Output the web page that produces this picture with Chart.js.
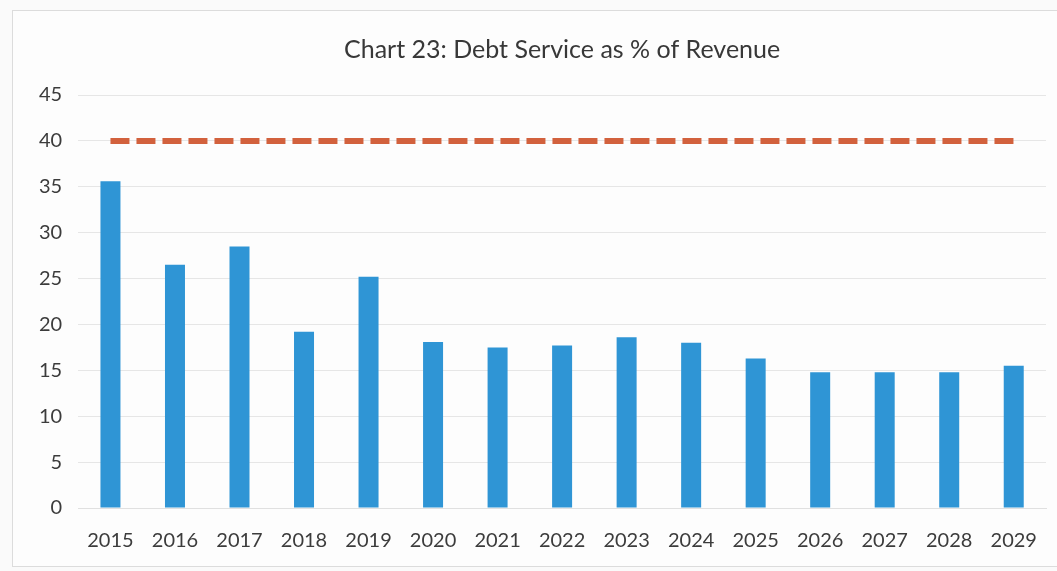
<!DOCTYPE html>
<html>
<head>
<meta charset="utf-8">
<script src="https://cdn.jsdelivr.net/npm/chart.js@4/dist/chart.umd.min.js"></script>
<style>
    html, body { margin: 0; padding: 0; background: #fafafa; overflow: hidden; }
    #frame {
        position: absolute;
        left: 12px; top: 10px;
        width: 1060px; height: 555px;
        border: 1px solid #dcdcdc;
        background: #fdfdfd;
    }
    #box { position: absolute; left: 0; top: 0; width: 1057px; height: 571px; }
</style>
</head>
<body>
<div id="frame"></div>
<div id="box"><canvas id="Chart"></canvas></div>
<script>
const years = ['2015','2016','2017','2018','2019','2020','2021','2022','2023','2024','2025','2026','2027','2028','2029'];
const debtService = [35.6, 26.5, 28.5, 19.2, 25.2, 18.1, 17.5, 17.7, 18.6, 18.0, 16.3, 14.8, 14.8, 14.8, 15.5];
const limitLine = [40, 40, 40, 40, 40, 40, 40, 40, 40, 40, 40, 40, 40, 40, 40];
const yTicks = [0, 5, 10, 15, 20, 25, 30, 35, 40, 45];

const fontFamily = "Lato, 'Open Sans', sans-serif";

let ctx = document.getElementById('Chart').getContext('2d');
let chart = new Chart(ctx, {
    data: {
        labels: years,
        datasets: [
            {
                type: 'line',
                label: 'Limit',
                data: limitLine,
                borderColor: '#d2613d',
                borderWidth: 6,
                borderDash: [19, 7],
                borderCapStyle: 'butt',
                pointRadius: 0,
                fill: false,
                order: 0
            },
            {
                type: 'bar',
                label: 'Debt Service',
                data: debtService,
                backgroundColor: '#2f95d5',
                barPercentage: 0.31,
                categoryPercentage: 1,
                order: 1
            }
        ]
    },
    options: {
        animation: false,
        responsive: true,
        maintainAspectRatio: false,
        layout: {
            padding: { left: 23, right: 11, top: 35, bottom: 5 }
        },
        plugins: {
            legend: { display: false },
            tooltip: { enabled: false },
            title: {
                display: true,
                fullSize: false,
                text: 'Chart 23: Debt Service as % of Revenue',
                color: '#383838',
                font: { family: fontFamily, size: 25, weight: 'normal' },
                padding: { top: 0, bottom: 30 }
            }
        },
        scales: {
            x: {
                grid: { display: false },
                border: { color: '#e0e0e0' },
                ticks: {
                    color: '#3c3c3c',
                    font: { family: fontFamily, size: 20, lineHeight: 1 },
                    maxRotation: 0,
                    autoSkip: false,
                    padding: 15
                }
            },
            y: {
                min: 0,
                max: 45,
                afterBuildTicks: axis => {
                    axis.ticks = yTicks.map(v => ({ value: v }));
                },
                grid: { color: '#e6e6e6', lineWidth: 1, drawTicks: false },
                border: { display: false },
                ticks: {
                    color: '#3c3c3c',
                    font: { family: fontFamily, size: 20 },
                    padding: 16
                }
            }
        }
    }
});
</script>
</body>
</html>
